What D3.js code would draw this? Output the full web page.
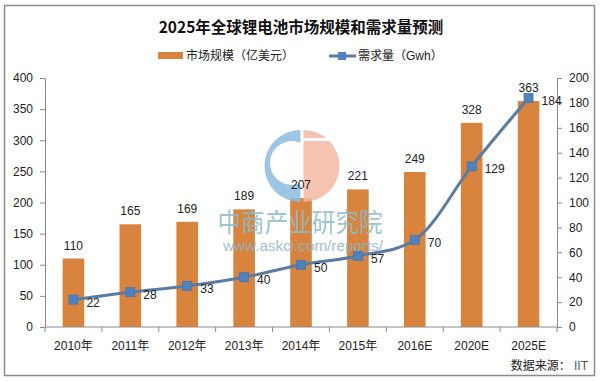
<!DOCTYPE html>
<html><head><meta charset="utf-8">
<script src="https://cdn.jsdelivr.net/npm/d3@7/dist/d3.min.js"></script>
<style>body{margin:0;background:#fff}svg{display:block}</style>
</head><body><svg id="c" width="603" height="382"></svg>
<script>
const categories = ["2010年","2011年","2012年","2013年","2014年","2015年","2016E","2020E","2025E"];
const marketSize = [110,165,169,189,207,221,249,328,363];
const demand = [22,28,33,40,50,57,70,129,184];
const leftTicks = [0,50,100,150,200,250,300,350,400];
const rightTicks = [0,20,40,60,80,100,120,140,160,180,200];

const FONT = "'Liberation Sans','Noto Sans CJK SC',sans-serif";
const svg = d3.select("#c");
const L = 45, R = 557, T = 78, B = 327;

svg.append("rect").attr("x",4.5).attr("y",5.5).attr("width",590).attr("height",370)
  .attr("fill","#fff").attr("stroke","#8c8c8c").attr("stroke-width",1.5);

const x = d3.scaleBand().domain(categories).range([L,R]).paddingInner(0.62).paddingOuter(0.31);
const yL = d3.scaleLinear().domain([0,400]).range([B,T]);
const yR = d3.scaleLinear().domain([0,200]).range([B,T]);

// title
svg.append("text").attr("x",301).attr("y",33).attr("text-anchor","middle")
  .attr("font-family","'Noto Sans CJK SC',sans-serif").attr("font-weight","bold")
  .attr("font-size",15.5).attr("fill","#111").text("2025年全球锂电池市场规模和需求量预测");

// legend
const lg = svg.append("g").attr("font-family",FONT).attr("font-size",12).attr("fill","#222");
lg.append("rect").attr("x",158).attr("y",52).attr("width",25).attr("height",7).attr("fill","#D8843E");
lg.append("text").attr("x",186).attr("y",60).text("市场规模（亿美元）");
lg.append("line").attr("x1",329).attr("x2",356).attr("y1",56).attr("y2",56).attr("stroke","#5B7BA3").attr("stroke-width",3);
lg.append("rect").attr("x",338).attr("y",52).attr("width",8).attr("height",8).attr("fill","#4F81BD");
lg.append("text").attr("x",358).attr("y",60).text("需求量（Gwh）");

// bars
svg.append("g").selectAll("rect").data(marketSize).join("rect")
  .attr("x",(d,i)=>x(categories[i])).attr("width",x.bandwidth())
  .attr("y",d=>yL(d)).attr("height",d=>B-yL(d)).attr("fill","#D8843E");

// axes
const axisStyle = g=>{
  g.selectAll("path,line").attr("stroke","#8a8a8a");
  g.selectAll("text").attr("font-family",FONT).attr("font-size",12).attr("fill","#222");
};
svg.append("g").attr("transform",`translate(${L},0)`)
  .call(d3.axisLeft(yL).tickValues(leftTicks).tickSize(5).tickSizeOuter(0).tickPadding(7))
  .call(axisStyle);
svg.append("g").attr("transform",`translate(${R},0)`)
  .call(d3.axisRight(yR).tickValues(rightTicks).tickSize(5).tickSizeOuter(0).tickPadding(7))
  .call(axisStyle);
const xa = svg.append("g").attr("transform",`translate(0,${B})`)
  .call(d3.axisBottom(x).tickSize(0).tickPadding(14));
xa.select(".domain").remove();
xa.call(axisStyle);
xa.append("line").attr("x1",L).attr("x2",R).attr("stroke","#8a8a8a");
const step = x.step();
xa.selectAll(".sep").data(d3.range(categories.length+1)).join("line").attr("class","sep")
  .attr("x1",i=>L+i*step).attr("x2",i=>L+i*step).attr("y1",0).attr("y2",5).attr("stroke","#8a8a8a");

// watermark
const wm = svg.append("g").attr("opacity",0.85);
const cx = 302, cy = 166, r = 36;
const leftHalf = d3.path();
leftHalf.moveTo(cx-1.5, cy-r); leftHalf.arc(cx-1.5, cy, r, -Math.PI/2, Math.PI/2, true); leftHalf.closePath();
wm.append("path").attr("d",leftHalf.toString()).attr("fill","#8BBDE0");
wm.append("ellipse").attr("cx",292).attr("cy",163).attr("rx",22).attr("ry",22).attr("fill","#fff");
wm.append("rect").attr("x",cx-1.5).attr("y",cy-24).attr("width",1.5).attr("height",45).attr("fill","#fff");
const rightHalf = d3.path();
rightHalf.moveTo(cx+1.5, cy-r); rightHalf.arc(cx+1.5, cy, r, -Math.PI/2, Math.PI/2, false); rightHalf.closePath();
wm.append("path").attr("d",rightHalf.toString()).attr("fill","#F4B9A3");
wm.append("rect").attr("x",cx+1).attr("y",138).attr("width",40).attr("height",3).attr("fill","#fff");
wm.append("text").attr("x",300).attr("y",232).attr("text-anchor","middle")
  .attr("font-family","'Noto Sans CJK SC',sans-serif").attr("font-size",26).attr("fill","#8CBCC8")
  .attr("textLength",165).attr("lengthAdjust","spacingAndGlyphs").text("中商产业研究院");
wm.append("text").attr("x",303).attr("y",251).attr("text-anchor","middle")
  .attr("font-family",FONT).attr("font-size",15).attr("fill","#8FB3CC")
  .attr("textLength",160).attr("lengthAdjust","spacingAndGlyphs").text("www.askci.com/reports/");

// bar labels (drawn above the watermark)
svg.append("g").selectAll("text").data(marketSize).join("text")
  .attr("x",(d,i)=>x(categories[i])+x.bandwidth()/2).attr("y",d=>yL(d)-9)
  .attr("text-anchor","middle").attr("font-family",FONT).attr("font-size",12).attr("fill","#222")
  .text(d=>d);

// line
const cxp = (d,i)=>x(categories[i])+x.bandwidth()/2;
const line = d3.line().x(cxp).y(d=>yR(d)).curve(d3.curveCatmullRom.alpha(0.5));
svg.append("path").datum(demand).attr("d",line).attr("fill","none")
  .attr("stroke","#5B7BA3").attr("stroke-width",3);
svg.append("g").selectAll("rect").data(demand).join("rect")
  .attr("x",(d,i)=>cxp(d,i)-4.5).attr("y",d=>yR(d)-4.5).attr("width",9).attr("height",9)
  .attr("fill","#4F81BD").attr("stroke","#4A74A8").attr("stroke-width",0.8);
svg.append("g").selectAll("text").data(demand).join("text")
  .attr("x",(d,i)=>cxp(d,i)+13).attr("y",d=>yR(d)+7)
  .attr("font-family",FONT).attr("font-size",12).attr("fill","#222").text(d=>d);

// source
svg.append("text").attr("x",588).attr("y",370).attr("text-anchor","end")
  .attr("font-family",FONT).attr("font-size",12).attr("fill","#222")
  .text("数据来源：").append("tspan").attr("fill","#555").text(" IIT");
</script></body></html>
